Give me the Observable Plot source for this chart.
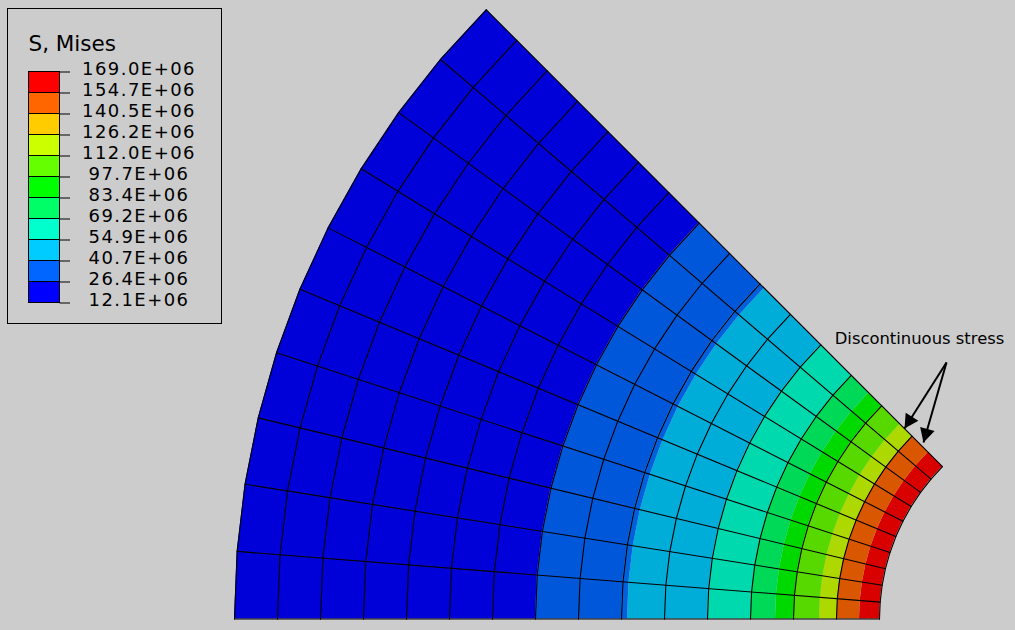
<!DOCTYPE html>
<html>
<head>
<meta charset="utf-8">
<style>
html,body{margin:0;padding:0;background:#cccccc;overflow:hidden}
svg{display:block;background:#cccccc}
.legend-labels text,.legend-labels tspan{letter-spacing:1.45px}
</style>
<script src="https://cdn.jsdelivr.net/npm/d3@7"></script>
<script src="https://cdn.jsdelivr.net/npm/@observablehq/plot@0.6"></script>
</head>
<body>
<script>
// Mesh: radial stations of the section and angular stations (degrees)
const meshRadii = [215,258,301,344,387,430,473,516,559,602,645,688,731,774,817,860];
const meshAngles = [0,4.5,9,13.5,18,22.5,27,31.5,36,40.5,45];
// Mises contour bands on the shaded model: radius edges and shaded colours
const bandEdges  = [215,235,258,275,301,319,344,387,467,473,559,860];
const bandColors = ["#d90000","#d95700","#add900","#57d900","#00d900","#00d957","#00d9ad","#00add9","#0060de","#0057d9","#0000d9"];
// Legend
const legendColors = ["#ff0000","#ff6600","#ffcc00","#ccff00","#66ff00","#00ff00","#00ff66","#00ffcc","#00ccff","#0066ff","#0000ff"];
const legendLabels = ["169.0E+06","154.7E+06","140.5E+06","126.2E+06","112.0E+06","97.7E+06","83.4E+06","69.2E+06","54.9E+06","40.7E+06","26.4E+06","12.1E+06"];
const legendTitle = "S, Mises";
const note = "Discontinuous stress";

// Layout
const CX = 1094, CY = 618.5, KY = 1.0018;
const px = (r,a) => CX - r*Math.cos(a*Math.PI/180);
const py = (r,a) => CY - r*KY*Math.sin(a*Math.PI/180);

const bandRows = bandColors.flatMap((c,i) => meshAngles.map(a => ({
  band:i, color:c, x1:px(bandEdges[i],a), y1:py(bandEdges[i],a), x2:px(bandEdges[i+1],a), y2:py(bandEdges[i+1],a)
})));
const arcRows = meshRadii.flatMap(r => meshAngles.map(a => ({k:"r"+r, x:px(r,a), y:py(r,a)})));
const spokeRows = meshAngles.flatMap(a => [meshRadii[0],meshRadii[meshRadii.length-1]].map(r => ({k:"a"+a, x:px(r,a), y:py(r,a)})));

const LY0 = 71.5, LSTEP = 21;
const swatches = legendColors.map((c,i)=>({c, y1:LY0+i*LSTEP, y2:LY0+(i+1)*LSTEP}));
const ticks = legendLabels.map((t,i)=>({t, y:LY0+i*LSTEP}));

const arrows = [{x1:946,y1:362,x2:904,y2:428},{x1:946,y1:362,x2:923,y2:442}];
const heads = arrows.flatMap((d,i)=>{
  const L=Math.hypot(d.x2-d.x1,d.y2-d.y1), ux=(d.x2-d.x1)/L, uy=(d.y2-d.y1)/L, len=14, w=7.5;
  return [
    {k:i,x:d.x2,y:d.y2},
    {k:i,x:d.x2-ux*len-uy*w,y:d.y2-uy*len+ux*w},
    {k:i,x:d.x2-ux*len+uy*w,y:d.y2-uy*len-ux*w}
  ];
});

const chart = Plot.plot({
  width:1015, height:630, margin:0,
  x:{domain:[0,1015], range:[0,1015], axis:null},
  y:{domain:[0,630], range:[0,630], axis:null},
  style:{background:"#cccccc", fontFamily:"'DejaVu Sans', sans-serif"},
  marks:[
    Plot.area(bandRows,{x1:"x1",y1:"y1",x2:"x2",y2:"y2",z:"band",fill:"color",curve:"linear"}),
    Plot.line(arcRows,{x:"x",y:"y",z:"k",stroke:"#000",strokeWidth:1.1,curve:"linear"}),
    Plot.line(spokeRows,{x:"x",y:"y",z:"k",stroke:"#000",strokeWidth:1.1,curve:"linear"}),
    // Legend frame, swatches, ticks and labels
    Plot.rect([{}],{x1:()=>7.5,x2:()=>221.5,y1:()=>8.5,y2:()=>323.5,fill:"none",stroke:"#000",strokeWidth:1}),
    Plot.rect(swatches,{x1:()=>28.5,x2:()=>59.5,y1:"y1",y2:"y2",fill:"c",stroke:"#000",strokeWidth:1,inset:0}),
    Plot.ruleY(ticks,{y:"y",x1:()=>59.5,x2:()=>70,stroke:"#000",strokeWidth:1}),
    Plot.text(ticks,{x:()=>138.5,y:d=>d.y-2.5,text:"t",fontSize:18,fill:"#000",textAnchor:"middle",className:"legend-labels"}),
    Plot.text([legendTitle],{x:()=>28,y:()=>44,text:d=>d,fontSize:21.5,fill:"#000",textAnchor:"start"}),
    // Annotation
    Plot.text([note],{x:()=>919,y:()=>338,text:d=>d,fontSize:16.4,fill:"#000",textAnchor:"middle"}),
    Plot.link(arrows,{x1:"x1",y1:"y1",x2:"x2",y2:"y2",stroke:"#000",strokeWidth:2}),
    Plot.line(heads,{x:"x",y:"y",z:"k",fill:"#000",stroke:"none"})
  ]
});
document.body.appendChild(chart);
</script>
</body>
</html>
